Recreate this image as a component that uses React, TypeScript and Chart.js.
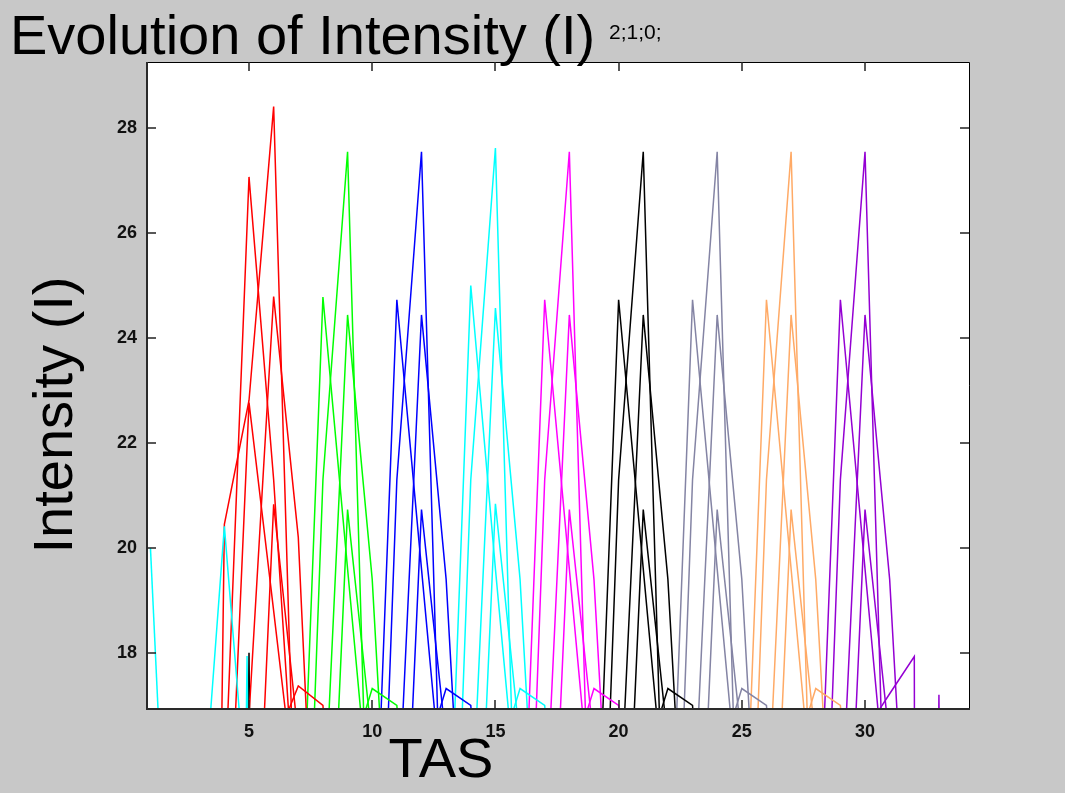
import React, { useEffect, useRef } from 'react';
import { Chart, registerables } from 'chart.js';

Chart.register(...registerables);

// ---- axes ----
const X_TICKS = [5, 10, 15, 20, 25, 30];
const Y_TICKS = [18, 20, 22, 24, 26, 28];
const X_MIN = 0.86;
const X_MAX = 34.22;
const Y_MIN = 16.93;
const Y_MAX = 29.26;

// ---- repeated groups (centre TAS and colour) ----
const GROUP_CENTERS = [9, 12, 15, 18, 21, 24, 27, 30];
const GROUP_COLORS = ['#00ff00', '#0000ff', '#00ffff', '#ff00ff', '#000000', '#8484a4', '#ffaa66', '#9400d3'];
// peak intensities per group
const TALL_PEAK = [27.55, 27.55, 27.62, 27.55, 27.55, 27.55, 27.55, 27.55];
const MID_LEFT_PEAK = [24.78, 24.73, 25.0, 24.73, 24.73, 24.73, 24.73, 24.73];
const MID_RIGHT_PEAK = [24.44, 24.44, 24.57, 24.44, 24.44, 24.44, 24.44, 24.44];
const LOW_PEAK = [20.73, 20.73, 20.84, 20.73, 20.73, 20.73, 20.73, 20.73];

// flanks of each line in a group: TAS offset from the centre -> intensity (null = the peak)
const TALL_DX = [-2, -1, 0, 1];
const TALL_Y = [8.5, 21.3, null, 11.2];
const MID_LEFT_DX = [-2, -1, 0, 1];
const MID_LEFT_Y = [12.5, null, 19.6, 14.5];
const MID_RIGHT_DX = [-1, 0, 1, 2];
const MID_RIGHT_Y = [14.4, null, 19.4, 11];
const LOW_DX = [-1, 0, 1];
const LOW_Y = [10.2, null, 16.3];
const BUMP_DX = [0, 1, 2, 3];
const BUMP_Y = [15.8, 17.32, 17.0, 11];

// ---- red group (first, different) ----
const RED_TALL_X = [3, 4, 5, 6, 7];
const RED_TALL_Y = [-15, 20.45, 22.81, 28.41, 12.4];
const RED_MID_LEFT_X = [4, 5, 6, 7];
const RED_MID_LEFT_Y = [15.2, 27.07, 21.3, 14];
const RED_MID_RIGHT_X = [5, 6, 7, 8];
const RED_MID_RIGHT_Y = [16.8, 24.79, 20.2, 10];
const RED_LOW_X = [5, 6, 7];
const RED_LOW_Y = [10.3, 20.83, 16.4];
const RED_KINK_X = [4, 5, 6, 7];
const RED_KINK_Y = [12, 22.77, 18.8, 14.8];
const RED_BUMP_X = [6, 7, 8, 9];
const RED_BUMP_Y = [16.2, 17.37, 17.0, 11];

// ---- cyan / black on the left ----
const CYAN_A_X = [1, 2];
const CYAN_A_Y = [20.0, 10];
const CYAN_B_X = [3, 4, 5];
const CYAN_B_Y = [14.1, 20.41, 14.6];
const CYAN_SPIKE_X = [4.78, 4.92, 5.06];
const CYAN_SPIKE_Y = [12, 17.94, 12];
const BLACK_SPIKE_X = [4.9, 5.0, 5.1];
const BLACK_SPIKE_Y = [12, 18.0, 12];

// ---- purple end ----
const PURPLE_TAIL_X = [30, 31, 32, 33];
const PURPLE_TAIL_Y = [16.5, 17.22, 17.93, -200];
const PURPLE_SPIKE_X = [32, 33, 34];
const PURPLE_SPIKE_Y = [-40, 17.2, -40];

const TITLE = 'Evolution of Intensity (I)';
const SUBTITLE = '2;1;0;';
const X_TITLE = 'TAS';
const Y_TITLE = 'Intensity (I)';
const FONT = "'Liberation Sans', Arial, sans-serif";

function line(xs: number[], ys: number[], color: string) {
  return {
    data: xs.map((x, i) => ({ x, y: ys[i] })),
    borderColor: color,
    backgroundColor: color,
    borderWidth: 1.5,
    pointRadius: 0,
    tension: 0,
    fill: false,
  };
}

function buildDatasets() {
  const ds: any[] = [];
  ds.push(line(CYAN_A_X, CYAN_A_Y, '#00ffff'));
  ds.push(line(CYAN_B_X, CYAN_B_Y, '#00ffff'));
  ds.push(line(RED_TALL_X, RED_TALL_Y, '#ff0000'));
  ds.push(line(RED_MID_LEFT_X, RED_MID_LEFT_Y, '#ff0000'));
  ds.push(line(RED_MID_RIGHT_X, RED_MID_RIGHT_Y, '#ff0000'));
  ds.push(line(RED_LOW_X, RED_LOW_Y, '#ff0000'));
  ds.push(line(RED_KINK_X, RED_KINK_Y, '#ff0000'));
  ds.push(line(RED_BUMP_X, RED_BUMP_Y, '#ff0000'));
  ds.push(line(CYAN_SPIKE_X, CYAN_SPIKE_Y, '#00ffff'));
  ds.push(line(BLACK_SPIKE_X, BLACK_SPIKE_Y, '#000000'));
  GROUP_CENTERS.forEach((c, g) => {
    const col = GROUP_COLORS[g];
    const sh = (dx: number[]) => dx.map((d) => c + d);
    const withPeak = (ys: (number | null)[], peak: number) => ys.map((y) => (y === null ? peak : y));
    ds.push(line(sh(TALL_DX), withPeak(TALL_Y, TALL_PEAK[g]), col));
    ds.push(line(sh(MID_LEFT_DX), withPeak(MID_LEFT_Y, MID_LEFT_PEAK[g]), col));
    ds.push(line(sh(MID_RIGHT_DX), withPeak(MID_RIGHT_Y, MID_RIGHT_PEAK[g]), col));
    ds.push(line(sh(LOW_DX), withPeak(LOW_Y, LOW_PEAK[g]), col));
    if (g === GROUP_CENTERS.length - 1) {
      ds.push(line(PURPLE_TAIL_X, PURPLE_TAIL_Y, col));
      ds.push(line(PURPLE_SPIKE_X, PURPLE_SPIKE_Y, col));
    } else {
      ds.push(line(sh(BUMP_DX), BUMP_Y, col));
    }
  });
  return ds;
}

const framePlugin = {
  id: 'frame',
  beforeDraw(chart: any) {
    const { ctx, chartArea: a, width, height } = chart;
    ctx.save();
    ctx.fillStyle = '#c8c8c8';
    ctx.fillRect(0, 0, width, height);
    ctx.fillStyle = '#ffffff';
    ctx.fillRect(a.left, a.top, a.right - a.left, a.bottom - a.top);
    ctx.restore();
  },
  afterDraw(chart: any) {
    const { ctx, chartArea: a } = chart;
    const xs = chart.scales.x;
    const ys = chart.scales.y;
    ctx.save();
    // box
    ctx.strokeStyle = '#000';
    ctx.lineWidth = 1;
    ctx.beginPath();
    ctx.moveTo(a.left, a.top + 0.5);
    ctx.lineTo(a.right + 0.5, a.top + 0.5);
    ctx.lineTo(a.right + 0.5, a.bottom);
    ctx.stroke();
    ctx.strokeStyle = '#2a2a2a';
    ctx.lineWidth = 2;
    ctx.beginPath();
    ctx.moveTo(a.left, a.top);
    ctx.lineTo(a.left, a.bottom);
    ctx.lineTo(a.right + 1, a.bottom);
    ctx.stroke();
    // inner ticks
    ctx.strokeStyle = '#222';
    ctx.lineWidth = 1.5;
    const TL = 9;
    ctx.beginPath();
    X_TICKS.forEach((v) => {
      const p = Math.round(xs.getPixelForValue(v));
      ctx.moveTo(p, a.bottom);
      ctx.lineTo(p, a.bottom - TL);
      ctx.moveTo(p, a.top);
      ctx.lineTo(p, a.top + TL);
    });
    Y_TICKS.forEach((v) => {
      const p = Math.round(ys.getPixelForValue(v));
      ctx.moveTo(a.left, p);
      ctx.lineTo(a.left + TL, p);
      ctx.moveTo(a.right, p);
      ctx.lineTo(a.right - TL, p);
    });
    ctx.stroke();
    // titles
    ctx.fillStyle = '#000';
    ctx.textBaseline = 'alphabetic';
    ctx.textAlign = 'left';
    ctx.font = `56px ${FONT}`;
    ctx.fillText(TITLE, 10, 54);
    ctx.font = `21px ${FONT}`;
    ctx.fillText(SUBTITLE, 609, 39);
    ctx.textAlign = 'center';
    ctx.font = `56px ${FONT}`;
    ctx.fillText(X_TITLE, 441, 777);
    ctx.save();
    ctx.translate(72, 415);
    ctx.rotate(-Math.PI / 2);
    ctx.fillText(Y_TITLE, 0, 0);
    ctx.restore();
    ctx.restore();
  },
};

export default function App() {
  const ref = useRef<HTMLCanvasElement>(null);
  useEffect(() => {
    const chart = new Chart(ref.current as HTMLCanvasElement, {
      type: 'line',
      data: { datasets: buildDatasets() },
      options: {
        animation: false,
        responsive: false,
        devicePixelRatio: 1,
        layout: { padding: { left: 0, right: 96, top: 62, bottom: 0 } },
        plugins: { legend: { display: false }, tooltip: { enabled: false }, title: { display: false } },
        scales: {
          x: {
            type: 'linear',
            min: X_MIN,
            max: X_MAX,
            afterBuildTicks: (s: any) => {
              s.ticks = X_TICKS.map((v) => ({ value: v }));
            },
            afterFit: (s: any) => {
              s.height = 84;
            },
            grid: { display: false, drawTicks: false },
            border: { display: false },
            ticks: {
              padding: 12,
              color: '#111',
              font: { family: FONT, size: 18, weight: 'bold' },
              maxRotation: 0,
              autoSkip: false,
            },
          },
          y: {
            type: 'linear',
            min: Y_MIN,
            max: Y_MAX,
            afterBuildTicks: (s: any) => {
              s.ticks = Y_TICKS.map((v) => ({ value: v }));
            },
            afterFit: (s: any) => {
              s.width = 147;
            },
            grid: { display: false, drawTicks: false },
            border: { display: false },
            ticks: {
              padding: 10,
              color: '#111',
              font: { family: FONT, size: 18, weight: 'bold' },
              autoSkip: false,
            },
          },
        },
      },
      plugins: [framePlugin],
    } as any);
    return () => chart.destroy();
  }, []);
  return (
    <div style={{ position: 'fixed', left: 0, top: 0, width: 1065, height: 793 }}>
      <canvas ref={ref} width={1065} height={793} style={{ display: 'block', width: 1065, height: 793 }} />
    </div>
  );
}
